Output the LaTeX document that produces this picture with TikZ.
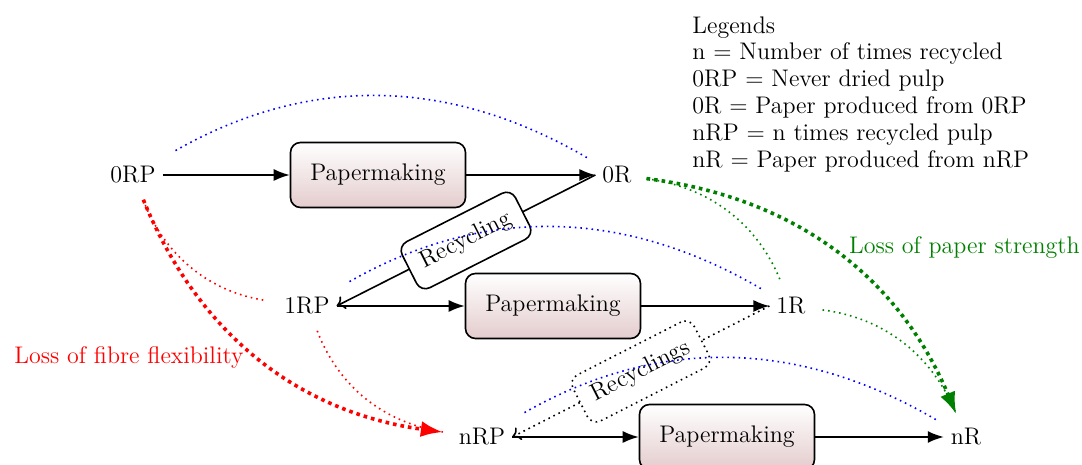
\documentclass[tikz,border=0pt]{standalone}
\usepackage{tikz}
\usetikzlibrary{arrows.meta}
\definecolor{mkshade}{RGB}{228,204,205}
\definecolor{lossgreen}{RGB}{0,128,0}

\begin{document}
\begin{tikzpicture}[x=0.5pt, y=0.5pt, font=\fontsize{12}{13.4}\selectfont,
    mkbox/.style={draw, thick, rounded corners=5pt, minimum width=87.5pt, minimum height=32.5pt, top color=white, bottom color=mkshade},
    flow/.style={thick, -{Latex[length=8pt,width=6pt]}},
    recyc/.style={thick, -{To[length=4pt,width=7pt]}},
    recbox/.style={draw, thick, rounded corners=5pt, fill=white, inner xsep=7pt, inner ysep=7.5pt, sloped},
    samestage/.style={blue, thick, dotted, shorten <=9pt, shorten >=4pt},
    fibreloss/.style={red, dotted, shorten <=5pt, shorten >=4.5pt},
    strengthloss/.style={lossgreen, dotted, shorten <=4pt, shorten >=4pt},
    bigline/.style={line width=1.8pt},
    bigtip/.style={-{Latex[length=11pt,width=8pt]}}]
        \useasboundingbox (0,0) rectangle (1082,465);

        % Pulp and paper stages
        \node (pulp0) at (133,290) {0RP};
        \node[mkbox] (mk0) at (378,290) {Papermaking};
        \node (paper0) at (617,290) {0R};
        \node (pulp1) at (307,159) {1RP};
        \node[mkbox] (mk1) at (553,159) {Papermaking};
        \node (paper1) at (791,159) {1R};
        \node (pulpn) at (482,28) {nRP};
        \node[mkbox] (mkn) at (727,28) {Papermaking};
        \node (papern) at (966,28) {nR};

        % Papermaking flows
        \draw[flow] (pulp0) -- (mk0);
        \draw[flow] (mk0) -- (paper0);
        \draw[flow] (pulp1) -- (mk1);
        \draw[flow] (mk1) -- (paper1);
        \draw[flow] (pulpn) -- (mkn);
        \draw[flow] (mkn) -- (papern);

        % Recycling back to pulp
        \draw[recyc] (paper0.west) -- node[recbox, midway] {Recycling} (pulp1.east);
        \draw[recyc, dotted] (paper1.west) -- node[recbox, dotted, midway] {Recyclings} (pulpn.east);

        % Pulp to paper of the same stage
        \draw[samestage] (pulp0) to[bend left=30] (paper0);
        \draw[samestage] (pulp1) to[bend left=30] (paper1);
        \draw[samestage] (pulpn) to[bend left=30] (papern);

        % Loss of fibre flexibility
        \draw[fibreloss, thick, shorten >=6.5pt] (pulp0) to[bend right=30] (pulp1);
        \draw[fibreloss, thick] (pulp1) to[bend right=30] (pulpn);
        \draw[fibreloss, bigline, bigtip] (pulp0) to[bend right=30] (pulpn);
        \node[red, anchor=west, inner sep=0pt] (fibrelabel) at (14,107) {Loss of fibre flexibility};

        % Loss of paper strength
        \draw[strengthloss, thick, shorten >=6pt] (paper0) to[bend left=30] (paper1);
        \draw[strengthloss, thick, shorten <=5pt] (paper1) to[bend left=30] (papern);
        \draw[strengthloss, bigline, bigtip] (paper0) to[bend left=30] (papern);
        \node[lossgreen, anchor=east, inner sep=0pt] (strengthlabel) at (1080,217) {Loss of paper strength};

        % Legends
        \node[anchor=north west, align=left, inner sep=0pt] (legend) at (692,449) {Legends\\
            n = Number of times recycled\\
            0RP = Never dried pulp\\
            0R = Paper produced from 0RP\\
            nRP = n times recycled pulp\\
            nR = Paper produced from nRP};
\end{tikzpicture}
\end{document}
